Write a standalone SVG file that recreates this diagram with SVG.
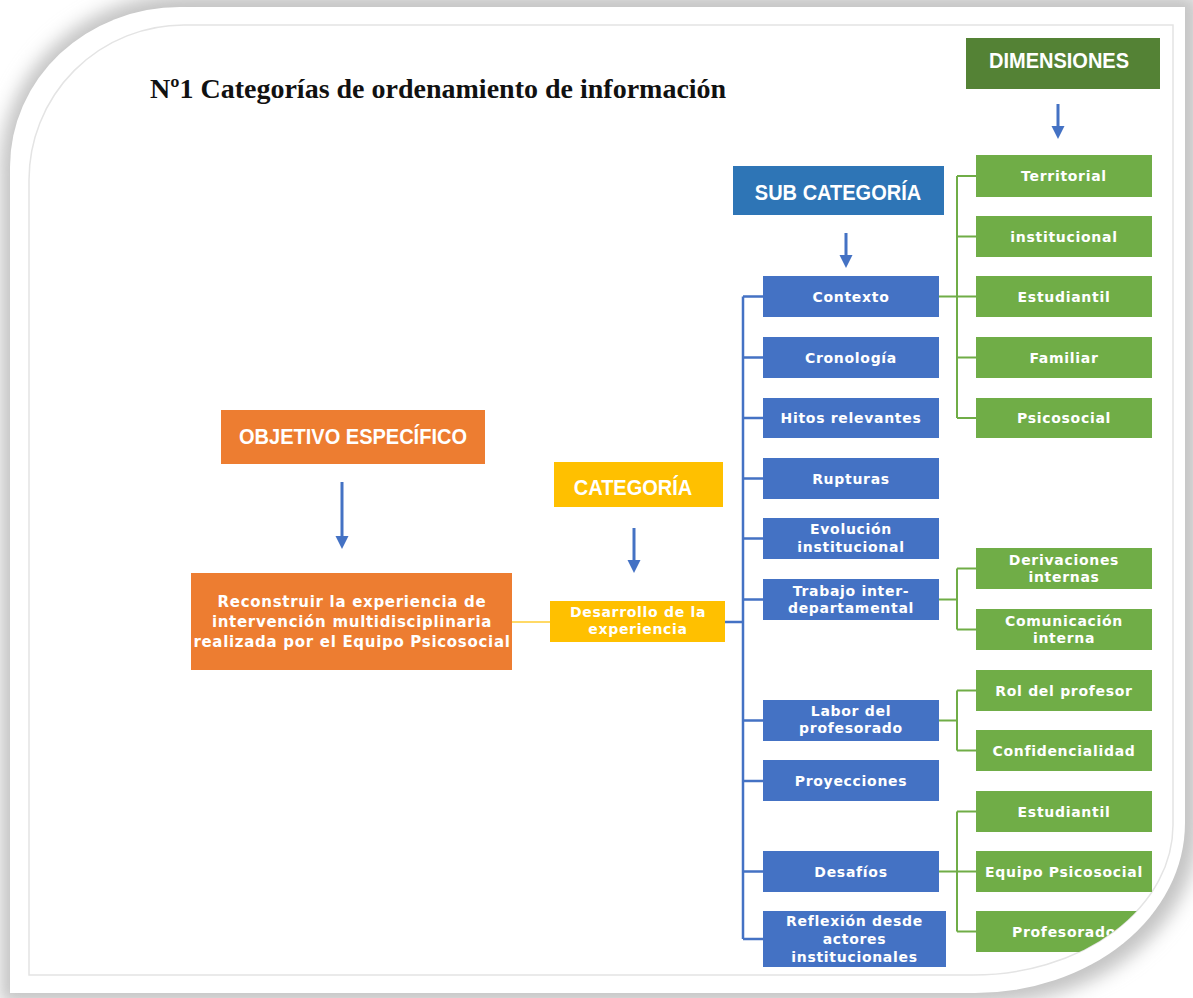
<svg xmlns="http://www.w3.org/2000/svg" width="1193" height="998" viewBox="0 0 1193 998">
<defs>
<filter id="blur" x="-10%" y="-10%" width="120%" height="120%"><feGaussianBlur stdDeviation="9"/></filter>
<clipPath id="inner"><path d="M184,25 H1173 V825 A200 150 0 0 1 973 975 H29 V180 A155 155 0 0 1 184 25 Z"/></clipPath>
<style>
.hdr{font-family:"Liberation Sans",Arial,sans-serif;font-weight:bold;font-size:22.5px;fill:#fff;text-anchor:middle}
.t{font-family:"DejaVu Sans",Verdana,sans-serif;font-weight:bold;font-size:14px;letter-spacing:0.7px;fill:#fff;text-anchor:middle}
.tl{font-size:15px}
.blue{fill:#4472c4}
.green{fill:#70ad47}
.bl{stroke:#4472c4;stroke-width:2.5;fill:none}
.gl{stroke:#70ad47;stroke-width:2;fill:none}
.arr{stroke:#4472c4;stroke-width:3;fill:none}
.ah{fill:#4472c4}
</style>
</defs>
<rect width="1193" height="998" fill="#ffffff"/>
<path d="M190,-6 H1199 V823 A215 180 0 0 1 980 1004 H0 V170 A185 175 0 0 1 190 -6 Z" fill="#c4c4c4" filter="url(#blur)"/>
<path d="M180,7 H1185 V823 A210 170 0 0 1 975 993 H10 V167 A170 160 0 0 1 180 7 Z" fill="#ffffff"/>
<path d="M184,25 H1173 V825 A200 150 0 0 1 973 975 H29 V180 A155 155 0 0 1 184 25 Z" fill="#ffffff" stroke="#e4e4e4" stroke-width="1.5"/>
<g clip-path="url(#inner)">
<text x="150" y="98" font-family="'Liberation Serif','Times New Roman',serif" font-weight="bold" font-size="28" fill="#111">Nº1 Categorías de ordenamiento de información</text>

<g id="connectors">
<path class="bl" d="M743,296.5 V939 M743,296.5 H763 M743,357.5 H763 M743,418 H763 M743,478.5 H763 M743,538.5 H763 M743,599.5 H763 M743,720.5 H763 M743,781 H763 M743,871.5 H763 M743,939 H763 M725,622 H743"/>
<path d="M512,622 H550" stroke="#ffd966" stroke-width="2" fill="none"/>
<path class="gl" d="M957,176 V418 M957,176 H976 M957,236.5 H976 M939,296.5 H976 M957,357.5 H976 M957,418 H976"/>
<path class="gl" d="M957,568.5 V629.5 M957,568.5 H976 M957,629.5 H976 M939,599.5 H957"/>
<path class="gl" d="M957,690.5 V750.5 M957,690.5 H976 M957,750.5 H976 M939,720.5 H957"/>
<path class="gl" d="M957,811.5 V931.5 M957,811.5 H976 M939,871.5 H976 M957,931.5 H976"/>
<path class="arr" d="M342,482 V537"/><path class="ah" d="M335.5,536 L348.5,536 L342,549 Z"/>
<path class="arr" d="M634,528 V561"/><path class="ah" d="M627.5,560 L640.5,560 L634,573 Z"/>
<path class="arr" d="M846,233 V256"/><path class="ah" d="M839.5,255 L852.5,255 L846,268 Z"/>
<path class="arr" d="M1058,104 V127"/><path class="ah" d="M1051.5,126 L1064.5,126 L1058,139 Z"/>
</g>

<g id="dimensiones"><rect x="966" y="38" width="194" height="51" fill="#548235"/><text class="hdr" transform="translate(1059,68) scale(0.89,1)">DIMENSIONES</text></g>
<g id="subcategoria"><rect x="733" y="166" width="211" height="49" fill="#2e75b6"/><text class="hdr" transform="translate(838,200) scale(0.89,1)">SUB CATEGORÍA</text></g>
<g id="objetivo"><rect x="221" y="410" width="264" height="54" fill="#ed7d31"/><text class="hdr" transform="translate(353,444) scale(0.89,1)">OBJETIVO ESPECÍFICO</text></g>
<g id="categoria"><rect x="554" y="462" width="169" height="45" fill="#ffc000"/><text class="hdr" transform="translate(633,495) scale(0.89,1)">CATEGORÍA</text></g>

<g id="reconstruir"><rect x="191" y="573" width="321" height="97" fill="#ed7d31"/>
<text class="t tl" x="352" y="607">Reconstruir la experiencia de</text>
<text class="t tl" x="352" y="627">intervención multidisciplinaria</text>
<text class="t tl" x="352" y="647">realizada por el Equipo Psicosocial</text></g>
<g id="desarrollo"><rect x="550" y="601" width="175" height="41" fill="#ffc000"/>
<text class="t" x="638" y="617">Desarrollo de la</text><text class="t" x="638" y="634">experiencia</text></g>

<g id="contexto"><rect class="blue" x="763" y="276" width="176" height="41"/><text class="t" x="851" y="301.5">Contexto</text></g>
<g id="cronologia"><rect class="blue" x="763" y="337" width="176" height="41"/><text class="t" x="851" y="362.5">Cronología</text></g>
<g id="hitos"><rect class="blue" x="763" y="398" width="176" height="40"/><text class="t" x="851" y="423">Hitos relevantes</text></g>
<g id="rupturas"><rect class="blue" x="763" y="458" width="176" height="41"/><text class="t" x="851" y="483.5">Rupturas</text></g>
<g id="evolucion"><rect class="blue" x="763" y="518" width="176" height="41"/><text class="t" x="851" y="534">Evolución</text><text class="t" x="851" y="552">institucional</text></g>
<g id="trabajo"><rect class="blue" x="763" y="579" width="176" height="41"/><text class="t" x="851" y="596">Trabajo inter-</text><text class="t" x="851" y="613">departamental</text></g>
<g id="labor"><rect class="blue" x="763" y="700" width="176" height="41"/><text class="t" x="851" y="716">Labor del</text><text class="t" x="851" y="733">profesorado</text></g>
<g id="proyecciones"><rect class="blue" x="763" y="760" width="176" height="41"/><text class="t" x="851" y="785.5">Proyecciones</text></g>
<g id="desafios"><rect class="blue" x="763" y="851" width="176" height="41"/><text class="t" x="851" y="876.5">Desafíos</text></g>
<g id="reflexion"><rect class="blue" x="763" y="911" width="183" height="56"/><text class="t" x="854.5" y="926">Reflexión desde</text><text class="t" x="854.5" y="944">actores</text><text class="t" x="854.5" y="962">institucionales</text></g>

<g id="territorial"><rect class="green" x="976" y="155" width="176" height="42"/><text class="t" x="1064" y="181">Territorial</text></g>
<g id="institucional"><rect class="green" x="976" y="216" width="176" height="41"/><text class="t" x="1064" y="241.5">institucional</text></g>
<g id="estudiantil1"><rect class="green" x="976" y="276" width="176" height="41"/><text class="t" x="1064" y="301.5">Estudiantil</text></g>
<g id="familiar"><rect class="green" x="976" y="337" width="176" height="41"/><text class="t" x="1064" y="362.5">Familiar</text></g>
<g id="psicosocial"><rect class="green" x="976" y="398" width="176" height="40"/><text class="t" x="1064" y="423">Psicosocial</text></g>
<g id="derivaciones"><rect class="green" x="976" y="548" width="176" height="41"/><text class="t" x="1064" y="565">Derivaciones</text><text class="t" x="1064" y="582">internas</text></g>
<g id="comunicacion"><rect class="green" x="976" y="609" width="176" height="41"/><text class="t" x="1064" y="626">Comunicación</text><text class="t" x="1064" y="643">interna</text></g>
<g id="rol"><rect class="green" x="976" y="670" width="176" height="41"/><text class="t" x="1064" y="695.5">Rol del profesor</text></g>
<g id="confidencialidad"><rect class="green" x="976" y="730" width="176" height="41"/><text class="t" x="1064" y="755.5">Confidencialidad</text></g>
<g id="estudiantil2"><rect class="green" x="976" y="791" width="176" height="41"/><text class="t" x="1064" y="816.5">Estudiantil</text></g>
<g id="equipo"><rect class="green" x="976" y="851" width="176" height="41"/><text class="t" x="1064" y="876.5">Equipo Psicosocial</text></g>
<g id="profesorado"><rect class="green" x="976" y="911" width="176" height="41"/><text class="t" x="1064" y="936.5">Profesorado</text></g>
</g>
</svg>
